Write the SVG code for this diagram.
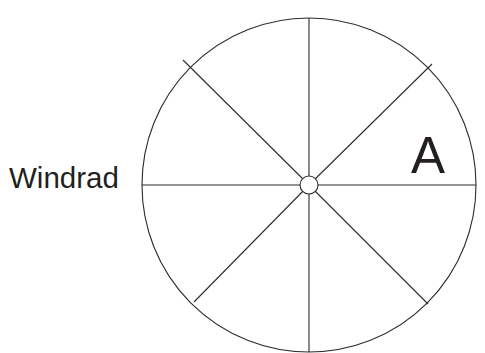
<svg xmlns="http://www.w3.org/2000/svg" width="485" height="353" viewBox="0 0 485 353">
<style>
.ln{stroke:#2b2b2b;stroke-width:1.1;fill:none}
.t{font-family:"Liberation Sans",Arial,sans-serif;fill:#231f20}
</style>
<rect width="485" height="353" fill="#fff"/>
<g id="wheel">
<circle class="ln" cx="309" cy="185" r="167"/>
</g>
<g id="connectors">
<line class="ln" x1="142" y1="185" x2="476" y2="185"/>
<line class="ln" x1="309" y1="18" x2="309" y2="352"/>
<line class="ln" x1="183" y1="60" x2="309" y2="185"/>
<line class="ln" x1="432" y1="64" x2="309" y2="185"/>
<line class="ln" x1="194" y1="302" x2="309" y2="185"/>
<line class="ln" x1="428" y1="304" x2="309" y2="185"/>
</g>
<g id="hub">
<circle class="ln" cx="309" cy="185" r="9" style="fill:#fff"/>
</g>
<g id="label-windrad">
<text class="t" x="9" y="188" font-size="29.5">Windrad</text>
</g>
<g id="label-a">
<text class="t" x="411" y="173" font-size="51">A</text>
</g>
</svg>
